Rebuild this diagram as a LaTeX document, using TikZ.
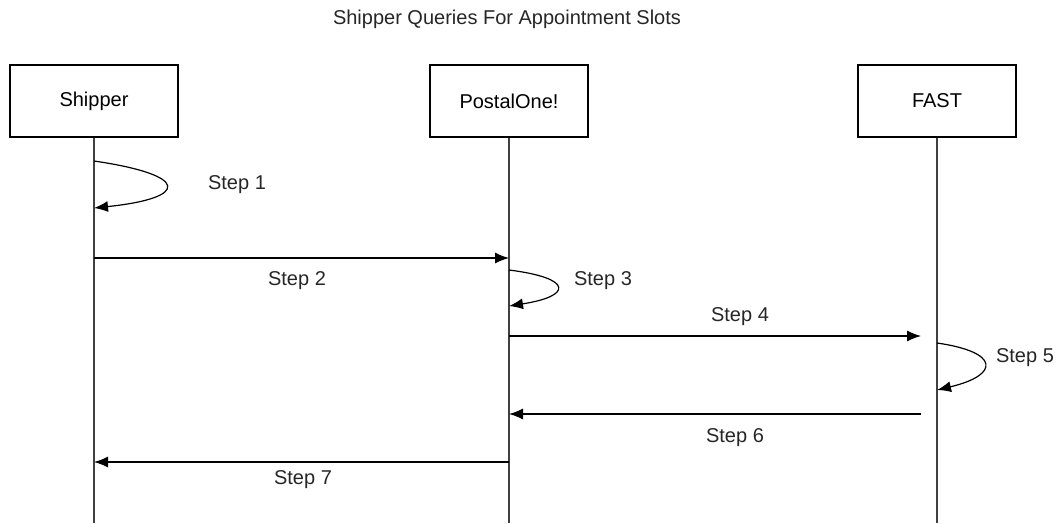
\documentclass[tikz,border=0pt]{standalone}
\usepackage{fontspec}
\setmainfont{Liberation Sans}
\usetikzlibrary{arrows.meta}
\begin{document}
\begin{tikzpicture}[x=1pt,y=-1pt,
  actor/.style={draw, line width=1.2pt, minimum width=168pt, minimum height=72pt, inner sep=0pt, font=\fontsize{20}{24}\selectfont},
  actorB/.style={actor, minimum width=158pt},
  life/.style={line width=1.2pt, draw=black!75},
  msg/.style={line width=1.2pt, -{Latex[length=14pt,width=11pt]}},
  lbl/.style={font=\fontsize{20}{24}\selectfont, text=black!85, inner sep=1pt}]
\useasboundingbox (0,0) rectangle (1058,523);
\node[lbl] (title) at (507,19) {Shipper Queries For Appointment Slots};
\node[actor] (ship) at (94,101) {Shipper};
\node[actorB] (post) at (509,101) {PostalOne!};
\node[actorB] (fast) at (937,101) {FAST};
\coordinate (shipEnd) at (94,523);
\coordinate (postEnd) at (509,523);
\coordinate (fastEnd) at (937,523);
\draw[life] (ship.south) -- (shipEnd);
\draw[life] (post.south) -- (postEnd);
\draw[life] (fast.south) -- (fastEnd);
% step 1
\coordinate (s1a) at (94,161);
\coordinate (s1b) at (94,208);
\draw[msg] (s1a) .. controls (190,175) and (190,198) .. (s1b);
\node[lbl] (l1) at (237,185) {Step 1};
% step 2
\coordinate (s2a) at (94,258);
\coordinate (s2b) at (509,258);
\draw[msg] (s2a) -- (s2b);
\node[lbl] (l2) at (297,281) {Step 2};
% step 3
\coordinate (s3a) at (509,270);
\coordinate (s3b) at (509,306);
\draw[msg] (s3a) .. controls (573,278) and (573,296) .. (s3b);
\node[lbl] (l3) at (603,281) {Step 3};
% step 4
\coordinate (s4a) at (509,336);
\coordinate (s4b) at (921,336);
\draw[msg] (s4a) -- (s4b);
\node[lbl] (l4) at (740,317) {Step 4};
% step 5
\coordinate (s5a) at (937,343);
\coordinate (s5b) at (937,390);
\draw[msg] (s5a) .. controls (1000,352) and (1000,375) .. (s5b);
\node[lbl] (l5) at (1025,358) {Step 5};
% step 6
\coordinate (s6a) at (921,414);
\coordinate (s6b) at (509,414);
\draw[msg] (s6a) -- (s6b);
\node[lbl] (l6) at (735,438) {Step 6};
% step 7
\coordinate (s7a) at (509,462);
\coordinate (s7b) at (94,462);
\draw[msg] (s7a) -- (s7b);
\node[lbl] (l7) at (303,480) {Step 7};
\end{tikzpicture}
\end{document}
